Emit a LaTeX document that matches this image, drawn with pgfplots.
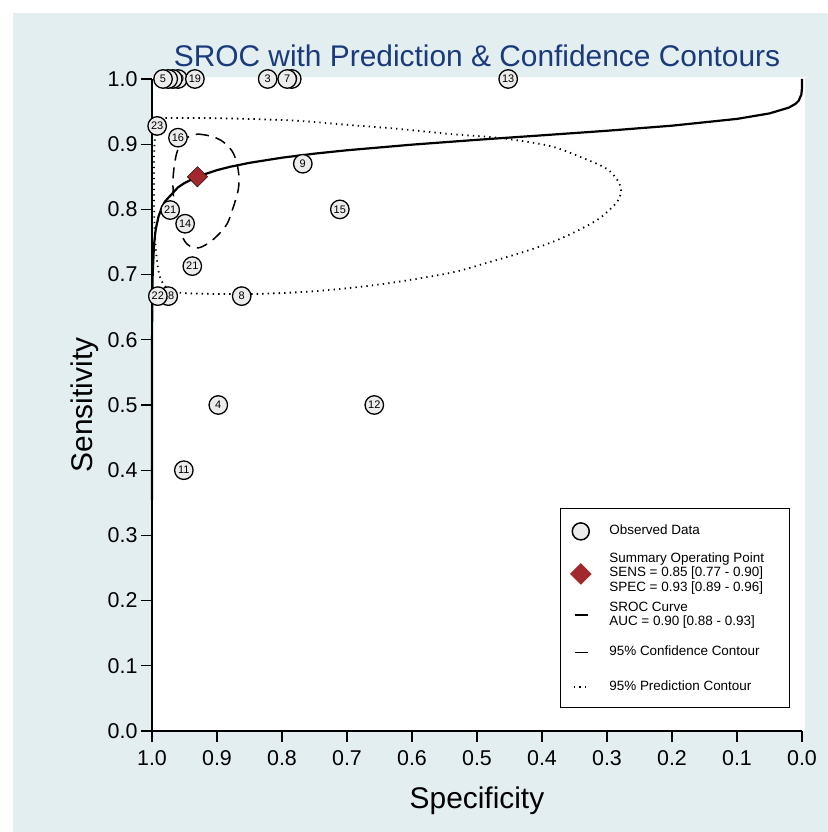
\documentclass[border=0pt]{standalone}
\usepackage{fontspec}
\setmainfont{Liberation Sans}
\usepackage{pgfplots}
\pgfplotsset{compat=1.18}
\definecolor{bgblue}{RGB}{226,238,240}
\definecolor{titleblue}{RGB}{26,58,122}
\definecolor{sumred}{RGB}{163,40,45}
\definecolor{obsfill}{RGB}{236,236,236}
% one legend cell: a fixed-width column, one row per line
\newcommand\lgd[1]{\begin{tabular}{@{}p{170bp}@{}}#1\end{tabular}}

\begin{document}
\begin{tikzpicture}
% page and graph region
\path[use as bounding box] (-152bp,-101bp) rectangle (676bp,731bp);
\fill[bgblue] (-139bp,-101bp) rectangle (676bp,718bp);
\fill[white] (0bp,0bp) rectangle (653bp,654bp);
\begin{axis}[
  at={(0,0)}, anchor=south west,
  scale only axis, width=650bp, height=652bp,
  xmin=0, xmax=1, ymin=0, ymax=1,
  x dir=reverse,
  clip=false,
  axis x line*=bottom, axis y line*=left,
  axis line style={line width=1.5bp, black, -},
  xtick={0,0.1,0.2,0.3,0.4,0.5,0.6,0.7,0.8,0.9,1},
  xticklabels={0.0,0.1,0.2,0.3,0.4,0.5,0.6,0.7,0.8,0.9,1.0},
  ytick={0,0.1,0.2,0.3,0.4,0.5,0.6,0.7,0.8,0.9,1},
  yticklabels={0.0,0.1,0.2,0.3,0.4,0.5,0.6,0.7,0.8,0.9,1.0},
  tick align=outside,
  major tick length=11bp,
  tick style={black, line width=1.2bp},
  tick label style={font=\fontsize{21.5}{22}\selectfont},
  xticklabel style={yshift=-5bp},
  xlabel={Specificity},
  ylabel={Sensitivity},
  label style={font=\fontsize{30}{30}\selectfont},
  xlabel style={at={(axis description cs:0.5,-0.1074)}, anchor=center},
  ylabel style={at={(axis description cs:-0.1031,0.5)}, anchor=center},
  title={SROC with Prediction \& Confidence Contours},
  title style={at={(axis description cs:0.5,1)}, anchor=base, yshift=7bp,
    font=\fontsize{30}{30}\selectfont, text=titleblue},
  legend cell align=left,
  legend style={
    at={(axis description cs:0.9815,0.0353)}, anchor=south east,
    draw=black, line width=1.2bp, fill=white,
    inner xsep=10bp, inner ysep=3bp,
    row sep=0bp, column sep=18bp,
    font=\fontsize{13.5}{14.5}\selectfont,
    cells={anchor=west},
    nodes={inner sep=0pt, text height={}, text depth={}},
  },
]

% legend keys (each key also reserves the height of its row)
\addlegendimage{legend image code/.code={
  \path[draw=none, fill=none] (0bp,-20bp) rectangle (0.1bp,20bp);
  \draw[line width=1.5bp, fill=obsfill] (10bp,0bp) circle (8.5bp);}}
\addlegendentry{\lgd{Observed Data}}
\addlegendimage{legend image code/.code={
  \path[draw=none, fill=none] (0bp,-22.5bp) rectangle (0.1bp,22.5bp);
  \fill[sumred] (10bp,10bp) -- (20bp,0bp) -- (10bp,-10bp) -- (0bp,0bp) -- cycle;}}
\addlegendentry{\lgd{Summary Operating Point\\SENS = 0.85 [0.77 - 0.90]\\SPEC = 0.93 [0.89 - 0.96]}}
\addlegendimage{legend image code/.code={
  \path[draw=none, fill=none] (0bp,-19bp) rectangle (0.1bp,19bp);
  \draw[line width=2.2bp] (4bp,0bp) -- (17bp,0bp);}}
\addlegendentry{\lgd{SROC Curve\\AUC = 0.90 [0.88 - 0.93]}}
\addlegendimage{legend image code/.code={
  \path[draw=none, fill=none] (0bp,-18bp) rectangle (0.1bp,18bp);
  \draw[line width=1.5bp] (4bp,0bp) -- (17bp,0bp);}}
\addlegendentry{\lgd{95\% Confidence Contour}}
\addlegendimage{legend image code/.code={
  \path[draw=none, fill=none] (0bp,-17bp) rectangle (0.1bp,17bp);
  \draw[line width=1.8bp, dash pattern=on 1.3bp off 4.2bp] (3bp,0bp) -- (19bp,0bp);}}
\addlegendentry{\lgd{95\% Prediction Contour}}

% 95% prediction contour
\addplot[forget plot, black, line width=1.8bp, dash pattern=on 1.3bp off 4.2bp, smooth, tension=0.5]
coordinates {
(0.9877,0.9402) (0.9262,0.9402) (0.8492,0.9387) (0.7723,0.9356) (0.6954,0.9294)
(0.6185,0.9233) (0.5415,0.9156) (0.4646,0.9095) (0.3877,0.8972) (0.3369,0.8788)
(0.3000,0.8620) (0.2831,0.8436) (0.2785,0.8282) (0.2846,0.8113) (0.3108,0.7868)
(0.3462,0.7669) (0.3877,0.7485) (0.4385,0.7316) (0.4908,0.7163) (0.5415,0.7025)
(0.6446,0.6856) (0.7462,0.6748) (0.8492,0.6702) (0.9523,0.6718) (0.9769,0.6794)
(0.9877,0.6963) (0.9923,0.7209) (0.9954,0.7592) (0.9969,0.8129) (0.9969,0.8742)
(0.9954,0.9126) (0.9908,0.9340) (0.9877,0.9402)
};

% 95% confidence contour
\addplot[forget plot, black, line width=1.5bp, dash pattern=on 11bp off 7bp, smooth, tension=0.6]
coordinates {
(0.9292,0.9156) (0.9108,0.9126) (0.8923,0.9049) (0.8769,0.8896) (0.8692,0.8696)
(0.8662,0.8482) (0.8677,0.8282) (0.8754,0.8021) (0.8846,0.7776) (0.9000,0.7592)
(0.9154,0.7469) (0.9308,0.7408) (0.9462,0.7469) (0.9554,0.7638) (0.9615,0.7853)
(0.9662,0.8129) (0.9677,0.8436) (0.9646,0.8742) (0.9585,0.8957) (0.9477,0.9095)
(0.9292,0.9156)
};

% SROC curve
\addplot[forget plot, black, line width=2.2bp, line join=round]
coordinates {
(0.999999,0.3544) (0.99999,0.4699) (0.9999,0.5886) (0.9997,0.6427) (0.999,0.6979)
(0.997,0.7439) (0.995,0.7637) (0.994,0.7705) (0.99,0.7889) (0.985,0.8027)
(0.98,0.8122) (0.96,0.8338) (0.95,0.8404) (0.93,0.8502) (0.90,0.8602)
(0.88,0.8653) (0.85,0.8714) (0.80,0.8793) (0.75,0.8855) (0.70,0.8907)
(0.60,0.8993) (0.50,0.9067) (0.40,0.9136) (0.30,0.9206) (0.20,0.9284)
(0.10,0.9388) (0.05,0.9472) (0.02,0.9562) (0.01,0.9619) (0.005,0.9669)
(0.001,0.9761) (0.0001,0.9851) (0,1.0)
};

% observed study estimates
\addplot[forget plot, mark=none, draw=none, point meta=explicit symbolic,
  nodes near coords={\pgfplotspointmeta},
  nodes near coords style={circle, draw=black, line width=1.3bp, fill=obsfill,
    inner sep=0pt, minimum size=18.5bp, text=black, anchor=center,
    font=\fontsize{11}{11}\selectfont}]
table[x=spec, y=sens, meta=lab] {
spec  sens  lab
0.960 1.000 20
0.968 1.000 2
0.975 1.000 6
0.983 1.000 5
0.934 1.000 19
0.822 1.000 3
0.785 1.000 10
0.792 1.000 7
0.452 1.000 13
0.992 0.928 23
0.960 0.910 16
0.768 0.870 9
0.711 0.800 15
0.972 0.799 21
0.949 0.778 14
0.938 0.713 21
0.975 0.667 18
0.991 0.667 22
0.862 0.667 8
0.898 0.500 4
0.658 0.500 12
0.951 0.400 11
};

% summary operating point
\addplot[forget plot, only marks, mark=square*, mark size=7.2bp,
  mark options={rotate=45, fill=sumred, draw=none}]
coordinates {(0.93,0.85)};
\end{axis}
\end{tikzpicture}
\end{document}
